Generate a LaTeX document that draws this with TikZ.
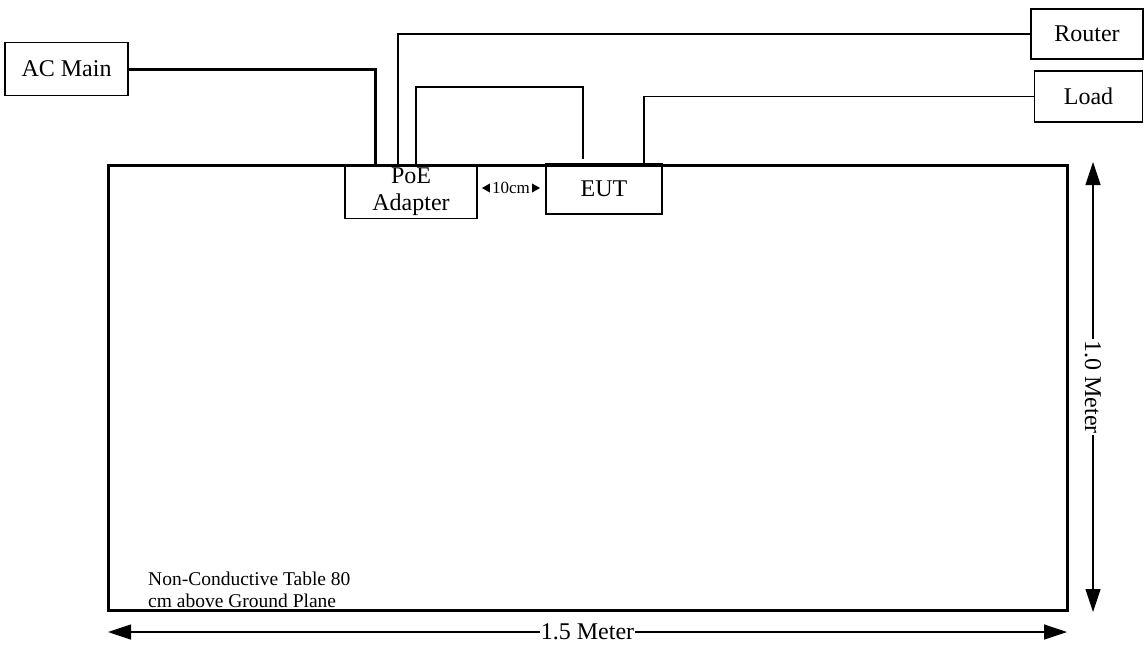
\documentclass[tikz,border=0pt]{standalone}
\usepackage{fontspec}
\setmainfont{Liberation Serif}
\usetikzlibrary{arrows.meta}
\begin{document}
\begin{tikzpicture}[x=1pt,y=-1pt,
  box/.style={draw,line width=1.2pt,rectangle,inner sep=0pt,font=\fontsize{24}{26}\selectfont},
  wire/.style={line width=1.3pt},
  thick wire/.style={line width=3pt},
  dim/.style={line width=1.3pt,{Triangle[length=23pt,width=15pt]}-{Triangle[length=23pt,width=15pt]}},
  lab/.style={font=\fontsize{24}{26}\selectfont,fill=white,inner sep=1pt}]
\useasboundingbox (0,0) rectangle (1147,646);
% table
\draw[line width=3pt] (108,165) rectangle (1067,610);
\node[anchor=north west,align=left,inner sep=0pt,font=\fontsize{19.5}{22}\selectfont] (tabletext) at (148,572) {Non-Conductive Table 80\\cm above Ground Plane};
% boxes
\node[box,minimum width=123pt,minimum height=53pt] (acmain) at (66.5,69) {AC Main};
\node[box,minimum width=132pt,minimum height=53pt,align=center,font=\fontsize{24}{27}\selectfont] (poe) at (411,192) {PoE\\Adapter};
\node[box,minimum width=116pt,minimum height=50pt] (eut) at (604,189) {EUT};
\node[box,minimum width=112pt,minimum height=50pt] (router) at (1087,34) {Router};
\node[box,minimum width=108pt,minimum height=51pt] (load) at (1088.5,96.5) {Load};
% table top line again over box tops
\draw[line width=3pt] (108,165) -- (1067,165);
% connectors
\coordinate (acdrop) at (375,165);
\draw[thick wire] (acmain.east) -| (acdrop);
\coordinate (poeA) at (398,165);
\draw[wire] (poeA) |- (router.west);
\coordinate (poeB) at (416,165);
\coordinate (eutIn) at (583,159);
\draw[wire] (poeB) -- (416,87) -| (eutIn);
\coordinate (eutOut) at (644,164);
\draw[wire] (eutOut) |- (load.west);
% 10cm
\node[inner sep=0pt,font=\fontsize{17}{18}\selectfont] (ten) at (511,188) {10cm};
\fill ([xshift=-10pt]ten.west) -- ++(8,-4.5) -- ++(0,9) -- cycle;
\fill ([xshift=10pt]ten.east) -- ++(-8,-4.5) -- ++(0,9) -- cycle;
% dimensions
\coordinate (vtop) at (1093,162);
\coordinate (vbot) at (1093,612);
\draw[dim] (vtop) -- (vbot) node[midway,lab,rotate=-90] (vlab) {1.0 Meter};
\coordinate (hl) at (108,632);
\coordinate (hr) at (1067,632);
\draw[dim] (hl) -- (hr) node[midway,lab] (hlab) {1.5 Meter};
\end{tikzpicture}
\end{document}
